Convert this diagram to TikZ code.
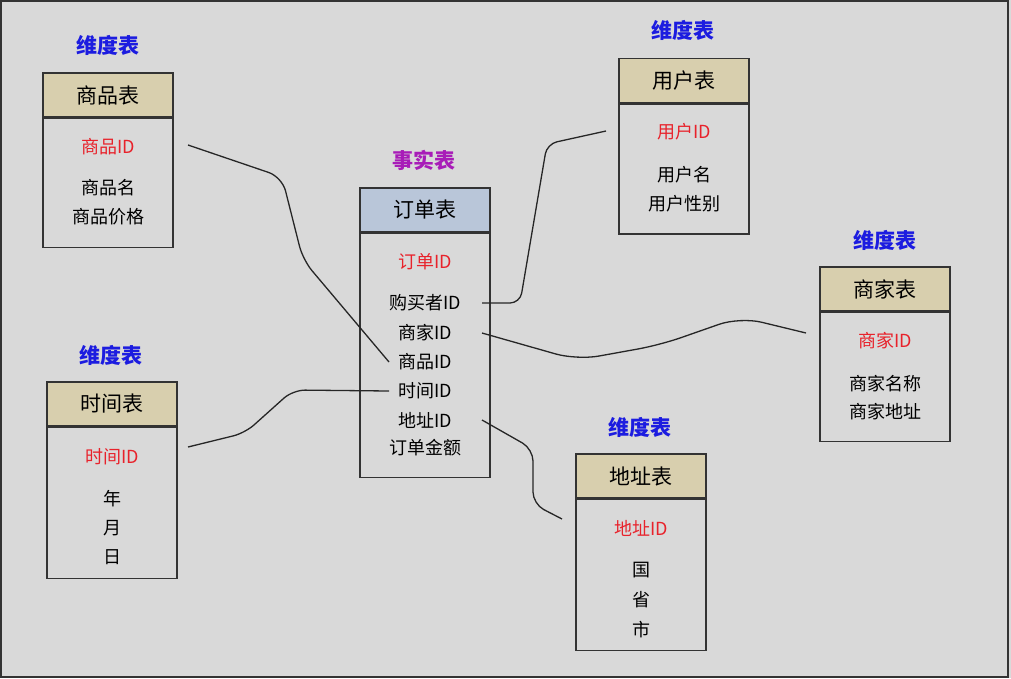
\documentclass[tikz,border=0pt]{standalone}
\usepackage{fontspec}
\setmainfont{Noto Sans CJK SC}
\usetikzlibrary{positioning}
\definecolor{bgray}{HTML}{D9D9D9}
\definecolor{tanhead}{HTML}{D8CFAE}
\definecolor{bluehead}{HTML}{B9C6D9}
\definecolor{keyred}{HTML}{E8222B}
\definecolor{dimblue}{HTML}{1C1CE0}
\definecolor{factpurple}{HTML}{A81CB8}
\definecolor{boxline}{HTML}{333333}

\begin{document}
\begin{tikzpicture}[x=1pt,y=-1pt,
	hdr/.style={draw=boxline,line width=1.5pt,fill=tanhead,minimum width=130pt,
		minimum height=44pt,inner sep=0pt,font=\fontsize{21}{24}\selectfont},
	tbl/.style={draw=boxline,line width=1.5pt,minimum width=130pt,inner sep=0pt},
	ttl/.style={font=\fontsize{21}{24}\selectfont\bfseries,text=dimblue},
	keyfld/.style={font=\fontsize{18}{20}\selectfont,text=keyred},
	fld/.style={font=\fontsize{18}{20}\selectfont,text=black},
	link/.style={line width=1.3pt,black!85,rounded corners=14pt}]
	
	\useasboundingbox (0,0) rectangle (1011,678);
	\fill[bgray] (0,0) rectangle (1011,678);
	\draw[boxline,line width=2pt] (1,1) rectangle (1008,677);
	
	% fact table
	\node[ttl,text=factpurple] (facttitle) at (424,160) {事实表};
	\node[hdr,fill=bluehead] (fact) at (425,210) {订单表};
	\node[tbl,minimum height=244pt,below=0pt of fact] (factbody) {};
	\node[keyfld] (fid) at (425,262) {订单ID};
	\node[fld] (fbuyer) at (425,303) {购买者ID};
	\node[fld] (fmerch) at (425,333) {商家ID};
	\node[fld] (fgoods) at (425,362) {商品ID};
	\node[fld] (ftime) at (425,391) {时间ID};
	\node[fld] (faddr) at (425,420) {地址ID};
	\node[fld] (fsum) at (425,448) {订单金额};
	
	% goods
	\node[ttl] (goodstitle) at (108,45) {维度表};
	\node[hdr] (goods) at (108,95) {商品表};
	\node[tbl,minimum height=129pt,below=0pt of goods] (goodsbody) {};
	\node[keyfld] (gid) at (108,147) {商品ID};
	\node[fld] (gname) at (108,188) {商品名};
	\node[fld] (gprice) at (108,217) {商品价格};
	
	% user
	\node[ttl] (usertitle) at (683,30) {维度表};
	\node[hdr] (user) at (684,80.5) {用户表};
	\node[tbl,minimum height=130pt,below=0pt of user] (userbody) {};
	\node[keyfld] (uid) at (684,132) {用户ID};
	\node[fld] (uname) at (684,175) {用户名};
	\node[fld] (usex) at (684,204) {用户性别};
	
	% merchant
	\node[ttl] (merchtitle) at (885,240) {维度表};
	\node[hdr] (merch) at (885,289) {商家表};
	\node[tbl,minimum height=129pt,below=0pt of merch] (merchbody) {};
	\node[keyfld] (mid) at (885,341) {商家ID};
	\node[fld] (mname) at (885,384) {商家名称};
	\node[fld] (maddr) at (885,412) {商家地址};
	
	% time
	\node[ttl] (timetitle) at (111,355) {维度表};
	\node[hdr] (time) at (112,404) {时间表};
	\node[tbl,minimum height=151pt,below=0pt of time] (timebody) {};
	\node[keyfld] (tid) at (112,457) {时间ID};
	\node[fld] (tyear) at (112,499) {年};
	\node[fld] (tmonth) at (112,528) {月};
	\node[fld] (tday) at (112,557) {日};
	
	% address
	\node[ttl] (addrtitle) at (640,427) {维度表};
	\node[hdr] (addr) at (641,476) {地址表};
	\node[tbl,minimum height=151pt,below=0pt of addr] (addrbody) {};
	\node[keyfld] (aid) at (641,528) {地址ID};
	\node[fld] (acountry) at (641,570) {国};
	\node[fld] (aprov) at (641,600) {省};
	\node[fld] (acity) at (641,630) {市};
	
	% free ends of the links
	\coordinate (fl) at (389,0);
	\coordinate (fr) at (482,0);
	\coordinate (goodsend) at (188,145);
	\coordinate (timeend) at (188,447);
	\coordinate (userend) at (606,131);
	\coordinate (merchend) at (806,333);
	\coordinate (addrend) at (562,519);
	
	\draw[link] (goodsend) -- (282,177) -- (303,260) -- (fgoods -| fl);
	\draw[link,rounded corners=12pt] (timeend) -- (245,433) -- (293,390) -- (ftime -| fl);
	\draw[link,rounded corners=10pt] (fbuyer -| fr) -- (520,303) -- (547,144) -- (userend);
	\draw[link,rounded corners=22pt] (fmerch -| fr) -- (577,360) -- (660,345) -- (740,317) -- (merchend);
	\draw[link,rounded corners=12pt] (faddr -| fr) -- (533,449) -- (533,504) -- (addrend);
\end{tikzpicture}
\end{document}
